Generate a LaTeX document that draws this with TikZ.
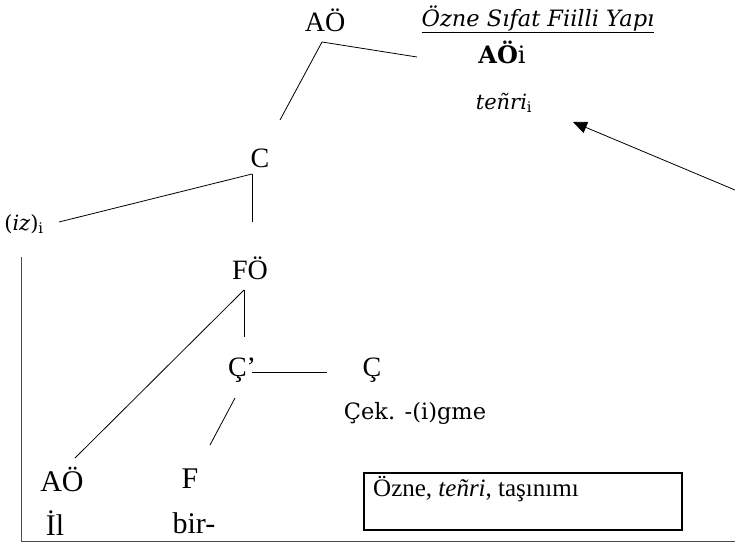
\documentclass[tikz,border=0pt]{standalone}
\usepackage{fontspec}
\setmainfont{Liberation Serif}
\newfontfamily\bookfont{DejaVu Serif}
\usetikzlibrary{arrows.meta}

\begin{document}
\begin{tikzpicture}[x=1pt,y=-1pt,
  lbl/.style={inner sep=0pt,font=\fontsize{28}{32}\selectfont},
  lblbig/.style={inner sep=0pt,font=\fontsize{30}{34}\selectfont},
  bk/.style={inner sep=0pt,font=\bookfont\fontsize{22.5}{26}\selectfont},
  branch/.style={line width=0.8pt},
  frame/.style={line width=1pt,black!70}]
\useasboundingbox (0,0) rectangle (735,544);

\node[lbl] (ao) at (325,20) {AÖ};
\node[bk] (title) at (538,19) {\itshape\underline{Özne Sıfat Fiilli Yapı}};
\node[bk,font=\bookfont\fontsize{24}{28}\selectfont] (aoi) at (502,52) {\bfseries AÖ\mdseries i};
\node[bk,font=\bookfont\fontsize{21}{24}\selectfont] (tenri) at (504,103) {\itshape teñri\textsubscript{\upshape i}};
\node[lbl] (c) at (260,158) {C};
\node[bk,font=\bookfont\fontsize{21}{24}\selectfont] (iz) at (24,224) {(\itshape iz\upshape)\textsubscript{i}};
\node[lbl] (fo) at (250,268) {FÖ};
\node[lbl] (cbar) at (242,370) {Ç’};
\node[lbl] (cc) at (372,370) {Ç};
\node[bk] (cek) at (415,413) {Çek. -(i)gme};
\node[lblbig] (aob) at (62,479) {AÖ};
\node[lblbig] (f) at (190,479) {F};
\node[lblbig] (il) at (55,523) {İl};
\node[lblbig] (bir) at (194,523) {bir-};
\node[draw,line width=2pt,minimum width=318pt,minimum height=57pt,anchor=north west,
  inner sep=0pt] (note) at (363,472) {};
\node[lbl,font=\fontsize{25}{28}\selectfont,anchor=west] (notetext) at (373,489) {Özne, \textit{teñri}, taşınımı};

% tree branches
\coordinate (aojoin) at (322,42);
\coordinate (cjoin) at (252,174);
\coordinate (fojoin) at (244,290);
\draw[branch] (aojoin) -- (417,57);
\draw[branch] (aojoin) -- (280,120);
\draw[branch] (cjoin) -- (59,222);
\draw[branch] (cjoin) -- (252,222);
\draw[branch] (fojoin) -- (75,458);
\draw[branch] (fojoin) -- (244,337);
\draw[branch] (252,372) -- (327,372);
\draw[branch] (235,398) -- (210,445);

% frame and movement arrow
\draw[frame] (21,257) -- (21,541) -- (735,541);
\draw[branch,-{Triangle[length=14pt,width=12pt]}] (735,190) -- (573,122);
\end{tikzpicture}
\end{document}
